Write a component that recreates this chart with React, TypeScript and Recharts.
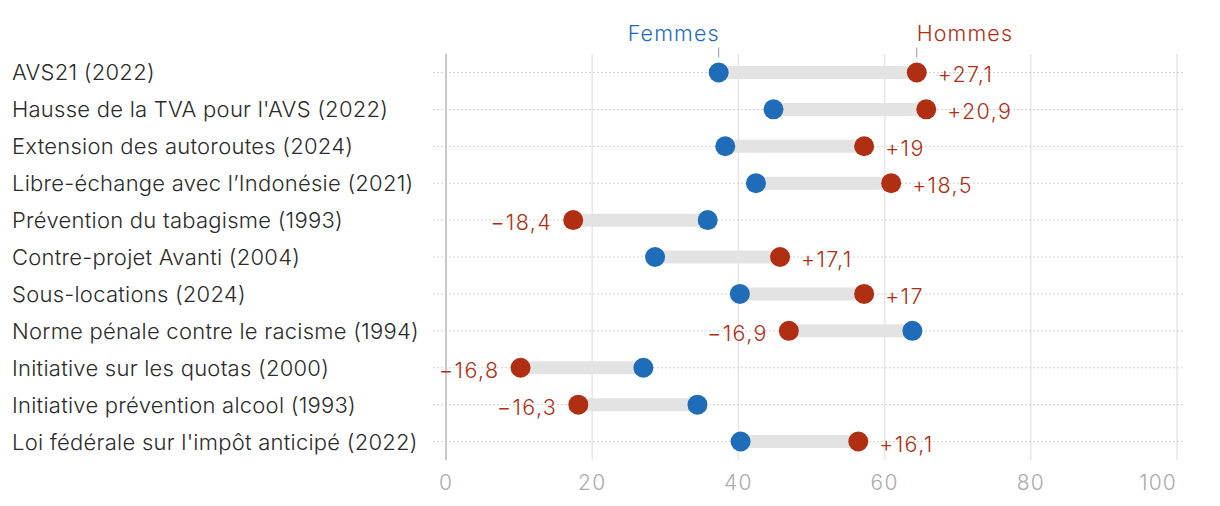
import React from 'react';
import {
  ComposedChart, Bar, Line, XAxis, YAxis, CartesianGrid, ReferenceLine, LabelList,
} from 'recharts';

const categories = [
  'AVS21 (2022)',
  "Hausse de la TVA pour l'AVS (2022)",
  'Extension des autoroutes (2024)',
  'Libre-échange avec l’Indonésie (2021)',
  'Prévention du tabagisme (1993)',
  'Contre-projet Avanti (2004)',
  'Sous-locations (2024)',
  'Norme pénale contre le racisme (1994)',
  'Initiative sur les quotas (2000)',
  'Initiative prévention alcool (1993)',
  "Loi fédérale sur l'impôt anticipé (2022)",
];
const femmes = [37.3, 44.8, 38.2, 42.4, 35.8, 28.6, 40.2, 63.8, 27.0, 34.4, 40.3];
const hommes = [64.4, 65.7, 57.2, 60.9, 17.4, 45.7, 57.2, 46.9, 10.2, 18.1, 56.4];
const xTicks = [0, 20, 40, 60, 80, 100];

const BLUE = '#1f6db8';
const RED = '#b02f13';
const FONT = 'Inter, sans-serif';

const data = categories.map((name, i) => ({
  name,
  f: femmes[i],
  h: hommes[i],
  range: [Math.min(femmes[i], hommes[i]), Math.max(femmes[i], hommes[i])],
}));

const fmtDiff = (d: number) => {
  const r = Math.round(d * 10) / 10;
  const s = Math.abs(r).toFixed(1).replace(/\.0$/, '').replace('.', ',');
  return (r < 0 ? '\u2212' : '+') + s;
};

const CategoryTick = (props: any) => {
  const { y, payload } = props;
  return (
    <text x={4} y={y} dy={8} textAnchor="start" fontSize={22} letterSpacing={0.25}
      fill="#2b2b2b" fontFamily={FONT} fontWeight={300}>
      {payload.value}
    </text>
  );
};

const ValueTick = (props: any) => {
  const { x, y, payload } = props;
  const last = payload.value === xTicks[xTicks.length - 1];
  return (
    <text x={x} y={y} dy={22} textAnchor={last ? 'end' : 'middle'} fontSize={21}
      letterSpacing={1.2} fill="#ababab" fontFamily={FONT} fontWeight={300}>
      {payload.value}
    </text>
  );
};

// dotted row guide, drawn behind the bars
const RowGuide = (props: any) => {
  const { x, y, width, height } = props;
  const cy = y + height / 2;
  return <line x1={x - 13} x2={x + width + 8} y1={cy} y2={cy} stroke="#d2d2d2" strokeDasharray="2 2" />;
};

const DiffLabel = (props: any) => {
  const { x, y, index } = props;
  const d = data[index].h - data[index].f;
  const right = d >= 0;
  return (
    <text x={right ? x + 21 : x - 21} y={y} dy={10} textAnchor={right ? 'start' : 'end'}
      fontSize={21.5} letterSpacing={1.4} fill={RED} fontFamily={FONT} fontWeight={300}>
      {fmtDiff(d)}
    </text>
  );
};

const legendLabel = (text: string, color: string, isF: boolean) => (props: any) => {
  const { x, y, index } = props;
  if (index !== 0) return null;
  const row = data[0];
  const leftSide = isF ? row.f < row.h : row.h < row.f;
  return (
    <g>
      <line x1={x} x2={x} y1={y - 25} y2={y - 15} stroke="#999" strokeWidth={1} />
      <text x={leftSide ? x + 1 : x} y={y - 31} textAnchor={leftSide ? 'end' : 'start'}
        fontSize={21.5} letterSpacing={1.1} fill={color} fontFamily={FONT} fontWeight={300}>
        {text}
      </text>
    </g>
  );
};

export default function App() {
  return (
    <div style={{ width: 1204, height: 490, background: '#fff' }}>
      <ComposedChart
        width={1204}
        height={490}
        data={data}
        layout="vertical"
        margin={{ top: 46, right: 35, bottom: 8, left: 0 }}
      >
        <CartesianGrid horizontal={false} stroke="#e6e6e6" strokeWidth={1.5} />
        <XAxis
          type="number"
          domain={[0, 100]}
          ticks={xTicks}
          axisLine={false}
          tickLine={false}
          height={30}
          tick={<ValueTick />}
        />
        <YAxis
          type="category"
          dataKey="name"
          width={438}
          axisLine={false}
          tickLine={false}
          tick={<CategoryTick />}
        />
        <ReferenceLine x={0} stroke="#c8c8c8" strokeWidth={2} />
        <Bar dataKey="range" barSize={13} fill="#e3e3e3" background={<RowGuide />}
          isAnimationActive={false} />
        <Line
          dataKey="f"
          stroke="none"
          dot={{ r: 10, fill: BLUE, stroke: 'none' }}
          activeDot={false}
          isAnimationActive={false}
        >
          <LabelList dataKey="f" content={legendLabel('Femmes', BLUE, true)} />
        </Line>
        <Line
          dataKey="h"
          stroke="none"
          dot={{ r: 10, fill: RED, stroke: 'none' }}
          activeDot={false}
          isAnimationActive={false}
        >
          <LabelList dataKey="h" content={<DiffLabel />} />
          <LabelList dataKey="h" content={legendLabel('Hommes', RED, false)} />
        </Line>
      </ComposedChart>
    </div>
  );
}
